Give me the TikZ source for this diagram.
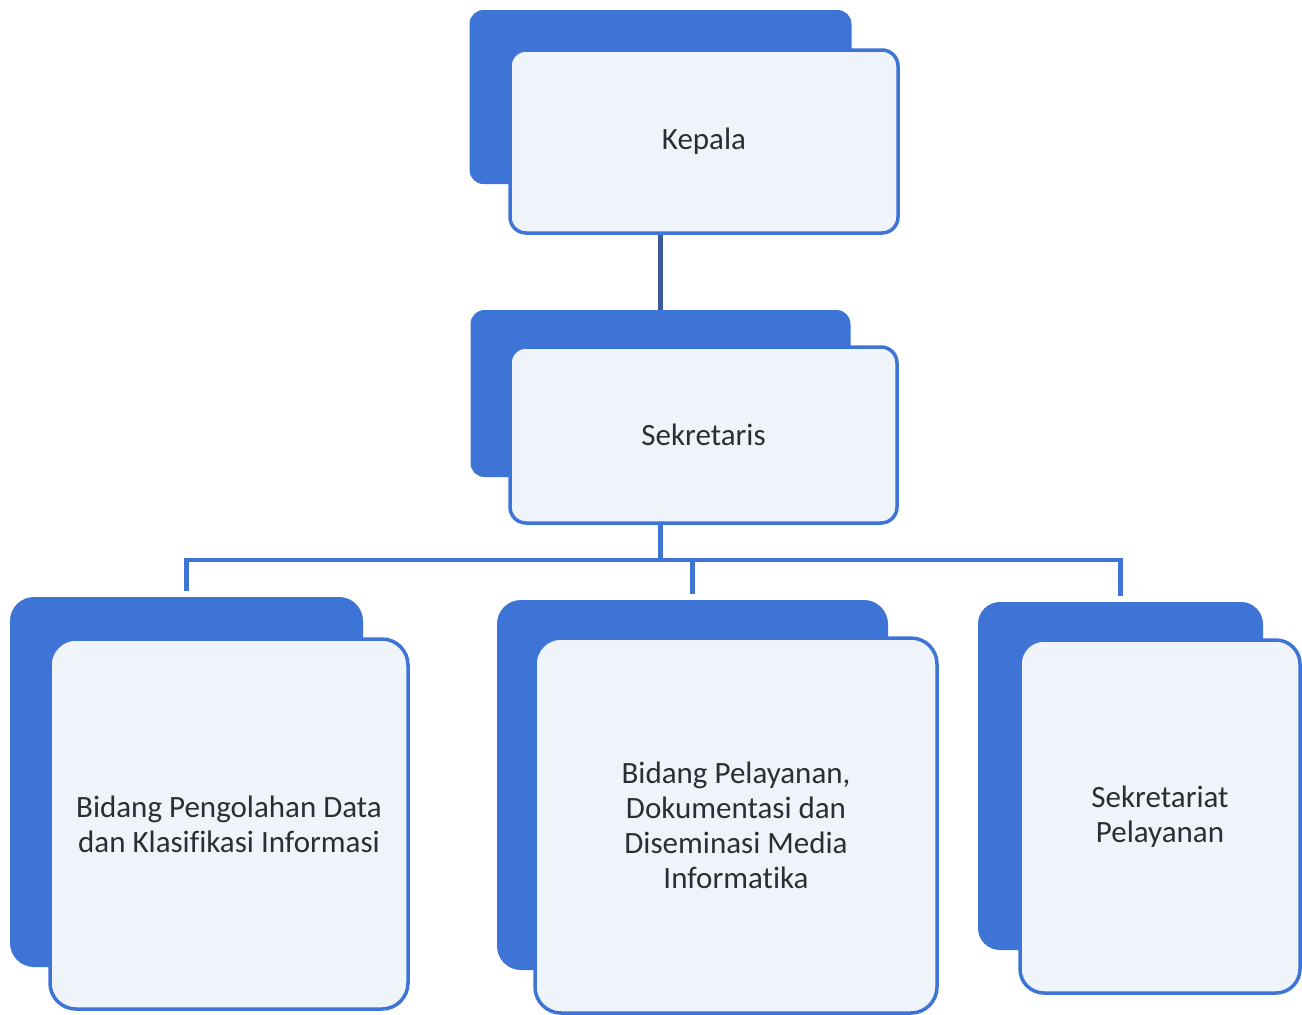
\documentclass[tikz,border=0pt]{standalone}
\usepackage{fontspec}
\setmainfont{Carlito}[Ligatures=NoCommon]
\definecolor{boxblue}{HTML}{3E74D6}
\definecolor{frontfill}{HTML}{EFF4FB}
\definecolor{txt}{HTML}{2B2E36}
\definecolor{darkline}{HTML}{3A5BA0}
\begin{document}
\begin{tikzpicture}[x=1pt,y=-1pt,
  backbox/.style={draw=none,fill=boxblue,rounded corners=#1,inner sep=0pt,anchor=center},
  backbox/.default=14pt,
  frontbox/.style={draw=boxblue,line width=3.5pt,fill=frontfill,rounded corners=#1,inner sep=0pt,anchor=center,
    text=txt,align=center,font=\fontsize{31}{35}\selectfont},
  frontbox/.default=16pt,
  conn/.style={draw=boxblue,line width=4.5pt},
  conndark/.style={draw=darkline,line width=4.5pt}]
\fill[white] (0,0) rectangle (1302,1015);
\useasboundingbox (0,0) rectangle (1302,1015);
% Kepala
\node[backbox,minimum width=382pt,minimum height=174pt] (kepB) at (660.5,97) {};
\node[frontbox,minimum width=388pt,minimum height=183pt] (kepF) at (704,141.5) {Kepala};
% Sekretaris
\node[backbox,minimum width=380pt,minimum height=167pt] (sekB) at (660.5,393.5) {};
\node[frontbox,minimum width=387pt,minimum height=176pt] (sekF) at (703.5,435) {Sekretaris};
% bottom row
\node[backbox=24pt,minimum width=353pt,minimum height=370pt] (lB) at (186.5,782) {};
\node[frontbox=26pt,minimum width=358pt,minimum height=370pt] (lF) at (229,824) {Bidang Pengolahan Data\\dan Klasifikasi Informasi};
\node[backbox=24pt,minimum width=391pt,minimum height=370pt] (mB) at (692.5,785) {};
\node[frontbox=26pt,minimum width=402pt,minimum height=375pt] (mF) at (736,825.5) {Bidang Pelayanan,\\Dokumentasi dan\\Diseminasi Media\\Informatika};
\node[backbox=22pt,minimum width=285pt,minimum height=348pt] (rB) at (1120.5,776) {};
\node[frontbox=24pt,minimum width=280pt,minimum height=353pt] (rF) at (1160,816.5) {Sekretariat\\Pelayanan};
% connectors
\coordinate (bus) at (660,560);
\draw[conndark] (kepB.south |- kepF.south) -- (sekB.north);
\draw[conn] (sekB.south |- sekF.south) -- (sekB.south |- bus);
\draw[conn,line cap=rect] (lB.north |- bus) -- (rB.north |- bus);
\draw[conn,shorten >=6pt] (lB.north |- bus) -- (lB.north);
\draw[conn,shorten >=6pt] (mB.north |- bus) -- (mB.north);
\draw[conn,shorten >=6pt] (rB.north |- bus) -- (rB.north);
\end{tikzpicture}
\end{document}
